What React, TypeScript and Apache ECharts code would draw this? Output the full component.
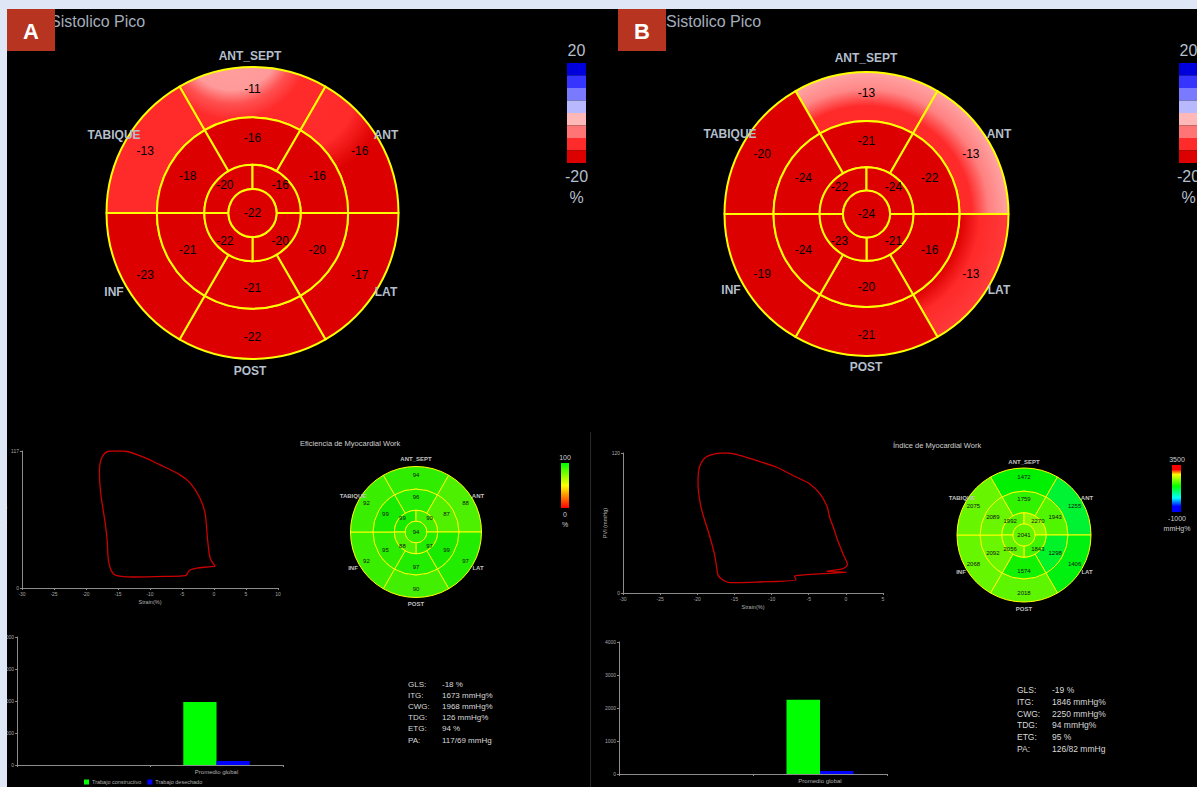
import React, { useEffect, useRef } from 'react';
import * as echarts from 'echarts';

const FONT = '"Liberation Sans", Arial, sans-serif';

// ---- segment names (6-segment rings clockwise from top, 4-segment ring clockwise from top-left)
const SEG6 = ['ANT_SEPT', 'ANT', 'LAT', 'POST', 'INF', 'TABIQUE'];
const SEG4 = ['APICAL_SEPT_ANT', 'APICAL_ANT_LAT', 'APICAL_LAT_POST', 'APICAL_INF_SEPT'];
const APEX = ['APEX'];

// ---- Panel A: peak systolic strain (%)
const strainA_basal = [-11, -16, -17, -22, -23, -13];
const strainA_mid = [-16, -16, -20, -21, -21, -18];
const strainA_apical = [-20, -16, -20, -22];
const strainA_apex = [-22];

// ---- Panel B: peak systolic strain (%)
const strainB_basal = [-13, -13, -13, -21, -19, -20];
const strainB_mid = [-21, -22, -16, -20, -24, -24];
const strainB_apical = [-22, -24, -21, -23];
const strainB_apex = [-24];

// ---- Panel A: myocardial work efficiency (%)
const weA_basal = [94, 88, 97, 90, 92, 92];
const weA_mid = [96, 87, 99, 97, 95, 99];
const weA_apical = [99, 90, 97, 88];
const weA_apex = [94];

// ---- Panel B: myocardial work index (mmHg%)
const wiB_basal = [1472, 1255, 1406, 2018, 2068, 2075];
const wiB_mid = [1759, 1943, 1298, 1574, 2092, 2089];
const wiB_apical = [1992, 2270, 1843, 2056];
const wiB_apex = [2041];

// ---- pressure-strain loops [strain %, LV pressure mmHg]
const loopA = [
  [0.2, 18.5], [-0.6, 25.6], [-1.0, 41.2], [-1.4, 63.9], [-2.2, 76.7], [-3.7, 89.5], [-5.3, 96.6],
  [-8.4, 105.1], [-11.5, 112.8], [-14.2, 117.0], [-16.2, 117.0], [-17.3, 113.6], [-17.8, 106.5],
  [-17.9, 98.0], [-17.7, 80.9], [-17.0, 55.4], [-16.7, 41.2], [-16.5, 24.1], [-16.0, 14.2],
  [-15.2, 10.5], [-12.6, 9.4], [-7.4, 9.9], [-4.5, 10.5], [-3.8, 15.1], [-2.7, 17.0], [-1.1, 17.9], [0.2, 18.5],
];
const loopB = [
  [-17.0, 120], [-18.8, 116.6], [-19.7, 108], [-19.9, 95.1], [-19.5, 73.7], [-18.3, 48], [-17.7, 33.7],
  [-17.4, 22.3], [-17.2, 15.1], [-16.5, 10.9], [-15.6, 8.9], [-12.1, 9.4], [-6.7, 11.4], [-6.9, 14.3],
  [-6.5, 15.1], [-3.1, 16.6], [0.1, 17.7], [-2.6, 18.6], [-0.5, 20.6], [0.2, 24.3], [-0.4, 33.7],
  [-1.1, 45.1], [-1.7, 56.6], [-2.2, 65.1], [-2.5, 73.7], [-3.5, 85.1], [-4.9, 93.7], [-6.7, 99.4],
  [-9.4, 108], [-12.1, 113.7], [-14.8, 118.9], [-16.1, 120], [-17.0, 120],
];
const loopA_yMax = 117;
const loopB_yMax = 120;

// ---- global work bars
const barCategories = ['', 'Promedio global'];
const constructiveA = [null, 1968];
const wastedA = [null, 126];
const constructiveB = [null, 2250];
const wastedB = [null, 94];

// ---- summary values
const statLabels = ['GLS:', 'ITG:', 'CWG:', 'TDG:', 'ETG:', 'PA:'];
const statsA = ['-18 %', '1673 mmHg%', '1968 mmHg%', '126 mmHg%', '94 %', '117/69 mmHg'];
const statsB = ['-19 %', '1846 mmHg%', '2250 mmHg%', '94 mmHg%', '95 %', '126/82 mmHg'];

// ---- legends
const strainLegendColors = ['#0000dd', '#3535ff', '#7a7aff', '#b8b8ff', '#ffb8b8', '#ff7575', '#ff2a2a', '#dd0000'];
const strainLegendTicks = ['20', '-20', '%'];
const weLegendTicks = ['100', '0', '%'];
const wiLegendTicks = ['3500', '-1000', 'mmHg%'];

// ---------------------------------------------------------------- colour scales
function strainColor(v: number) {
  const idx = Math.min(7, Math.max(0, Math.floor((20 - v) / 5)));
  return strainLegendColors[idx];
}
function lerp(a: number[], b: number[], t: number) {
  return a.map((x, i) => Math.round(x + (b[i] - x) * t));
}
function rampColor(stops: [number, number[]][], f: number) {
  f = Math.max(0, Math.min(1, f));
  for (let i = 0; i < stops.length - 1; i++) {
    const [f0, c0] = stops[i];
    const [f1, c1] = stops[i + 1];
    if (f <= f1) {
      const c = lerp(c0, c1, (f - f0) / (f1 - f0 || 1));
      return `rgb(${c[0]},${c[1]},${c[2]})`;
    }
  }
  const c = stops[stops.length - 1][1];
  return `rgb(${c[0]},${c[1]},${c[2]})`;
}
const WE_STOPS: [number, number[]][] = [[0, [255, 0, 0]], [0.5, [255, 255, 0]], [1, [20, 235, 0]]];
function weColor(v: number) {
  return rampColor(WE_STOPS, v / 100);
}
const WI_STOPS: [number, number[]][] = [
  [0, [0, 0, 255]], [0.1, [0, 0, 255]], [0.3, [0, 255, 255]], [0.55, [0, 240, 0]],
  [0.88, [255, 255, 0]], [0.95, [255, 0, 0]], [1, [255, 0, 0]],
];
const WI_LEGEND_STOPS: [number, number[]][] = [
  [0, [0, 0, 255]], [0.12, [0, 0, 255]], [0.3, [0, 255, 255]], [0.55, [0, 255, 0]],
  [0.8, [255, 255, 0]], [0.9, [255, 0, 0]], [1, [255, 0, 0]],
];
function wiColor(v: number) {
  return rampColor(WI_STOPS, (v + 1000) / 4500);
}

// ---------------------------------------------------------------- builders
function ring(
  id: string, center: number[], r0: number, r1: number, names: string[], values: number[],
  colors: any[], startAngle: number, fontSize: number, borderWidth: number, labelColor: string,
) {
  return {
    type: 'pie', id, center, radius: [r0, r1], startAngle, clockwise: true, silent: true,
    avoidLabelOverlap: false, z: 3,
    label: {
      show: true, position: r0 === 0 ? 'center' : 'inside',
      formatter: (p: any) => String(values[p.dataIndex]),
      color: labelColor, fontSize, fontFamily: FONT,
    },
    labelLine: { show: false },
    labelLayout: { hideOverlap: false },
    emphasis: { disabled: true },
    itemStyle: { borderColor: '#ffff00', borderWidth },
    data: names.map((n, i) => ({ name: n, value: 1, itemStyle: { color: colors[i] } })),
  };
}

function bullseye(
  prefix: string, center: number[], R: number,
  basal: number[], mid: number[], apical: number[], apex: number[],
  colorFn: (v: number) => any, fontSize: number, bw: number, labelColor: string,
  overrides: { basal?: any[] } = {},
) {
  const rA = R * 0.165, rB = R * 0.33, rC = R * 0.655;
  const basalColors = basal.map((v, i) => (overrides.basal && overrides.basal[i]) || colorFn(v));
  return [
    ring(prefix + 'basal', center, rC, R, SEG6, basal, basalColors, 120, fontSize, bw, labelColor),
    ring(prefix + 'mid', center, rB, rC, SEG6, mid, mid.map(colorFn), 120, fontSize, bw, labelColor),
    ring(prefix + 'apical', center, rA, rB, SEG4, apical, apical.map(colorFn), 180, fontSize, bw, labelColor),
    ring(prefix + 'apex', center, 0, rA, APEX, apex, apex.map(colorFn), 90, fontSize, bw, labelColor),
  ];
}

function radial(x: number, y: number, r: number, stops: [number, string][]) {
  return { type: 'radial', x, y, r, global: true, colorStops: stops.map(([offset, color]) => ({ offset, color })) };
}

function text(x: number, y: number, t: string, font: string, fill: string, align = 'center', z = 20) {
  return {
    type: 'text', x, y, z, silent: true,
    style: { text: t, font, fill, textAlign: align, textVerticalAlign: 'middle', verticalAlign: 'middle' },
  };
}

const AXIS_COLOR = '#8c8c8c';
function valueAxis(gridIndex: number, min: number, max: number, interval: number, name: string, extra: any = {}) {
  return {
    gridIndex, type: 'value', min, max, interval, name, nameLocation: 'middle',
    nameTextStyle: { fontSize: 5.5, color: '#b0b0b0', fontFamily: FONT },
    axisLine: { show: true, onZero: false, lineStyle: { color: AXIS_COLOR, width: 1 } },
    axisTick: { show: true, length: 2, lineStyle: { color: AXIS_COLOR } },
    axisLabel: { fontSize: 5, color: '#a8a8a8', margin: 3, fontFamily: FONT, formatter: (v: number) => String(v) },
    splitLine: { show: false },
    ...extra,
  };
}

function buildOption() {
  const A_C = [252.5, 213], A_R = 146;
  const B_C = [866.5, 214], B_R = 142;
  const WA_C = [416, 532], WA_R = 65.5;
  const WB_C = [1024, 535], WB_R = 67;

  const series: any[] = [
    ...bullseye('sa_', A_C, A_R, strainA_basal, strainA_mid, strainA_apical, strainA_apex, strainColor, 12, 2, '#000', {
      basal: [
        radial(232, 40, 100, [[0, '#ffa0a0'], [0.5, '#ff9a9a'], [0.64, '#ff5050'], [0.8, '#ff2a2a'], [1, '#ff2a2a']]),
        radial(300, 95, 120, [[0, '#ff2e2e'], [0.45, '#ff2a2a'], [0.7, '#dd0000'], [1, '#dd0000']]),
      ],
    }),
    ...bullseye('sb_', B_C, B_R, strainB_basal, strainB_mid, strainB_apical, strainB_apex, strainColor, 12, 2, '#000', {
      basal: [
        radial(B_C[0], B_C[1], B_R, [[0, '#ff2a2a'], [0.76, '#ff2a2a'], [0.88, '#ff8888'], [1, '#ffa4a4']]),
        radial(B_C[0], B_C[1], B_R, [[0, '#ff2a2a'], [0.74, '#ff2a2a'], [0.86, '#ff8080'], [1, '#ffa4a4']]),
        radial(B_C[0], B_C[1], B_R, [[0, '#dd0000'], [0.66, '#dd0000'], [0.8, '#ff2a2a'], [1, '#ff3a3a']]),
      ],
    }),
    ...bullseye('wa_', WA_C, WA_R, weA_basal, weA_mid, weA_apical, weA_apex, weColor, 6, 1, '#111'),
    ...bullseye('wb_', WB_C, WB_R, wiB_basal, wiB_mid, wiB_apical, wiB_apex, wiColor, 6, 1, '#111'),
    {
      type: 'line', xAxisIndex: 0, yAxisIndex: 0, data: loopA, showSymbol: false, smooth: 0.3, silent: true,
      lineStyle: { color: '#cc0000', width: 1.3 },
    },
    {
      type: 'line', xAxisIndex: 1, yAxisIndex: 1, data: loopB, showSymbol: false, smooth: 0.3, silent: true,
      lineStyle: { color: '#cc0000', width: 1.3 },
    },
    { type: 'bar', name: 'Trabajo constructivo', xAxisIndex: 2, yAxisIndex: 2, data: constructiveA, barGap: '0%', barCategoryGap: '50%', itemStyle: { color: '#00ff00' }, silent: true },
    { type: 'bar', name: 'Trabajo desechado', xAxisIndex: 2, yAxisIndex: 2, data: wastedA, barGap: '0%', barCategoryGap: '50%', itemStyle: { color: '#0000ff' }, silent: true },
    { type: 'bar', name: 'Trabajo constructivo', xAxisIndex: 3, yAxisIndex: 3, data: constructiveB, barGap: '0%', barCategoryGap: '50%', itemStyle: { color: '#00ff00' }, silent: true },
    { type: 'bar', name: 'Trabajo desechado', xAxisIndex: 3, yAxisIndex: 3, data: wastedB, barGap: '0%', barCategoryGap: '50%', itemStyle: { color: '#0000ff' }, silent: true },
  ];

  const grid = [
    { left: 22, top: 451, width: 256, height: 137 },
    { left: 623, top: 453, width: 260, height: 140 },
    { left: 15, top: 637, width: 268, height: 128 },
    { left: 619, top: 642, width: 268, height: 132 },
  ];

  const catAxis = (gridIndex: number) => ({
    gridIndex, type: 'category', data: barCategories,
    axisLine: { lineStyle: { color: AXIS_COLOR } },
    axisTick: { show: true, length: 2, lineStyle: { color: AXIS_COLOR } },
    axisLabel: { fontSize: 6, color: '#b0b0b0', margin: 4, fontFamily: FONT },
    splitLine: { show: false },
  });

  const xAxis = [
    valueAxis(0, -30, 10, 5, 'Strain(%)', { nameGap: 11 }),
    valueAxis(1, -30, 5, 5, 'Strain(%)', { nameGap: 11 }),
    catAxis(2),
    catAxis(3),
  ];
  const yAxis = [
    valueAxis(0, 0, loopA_yMax, loopA_yMax, 'PVI (mmHg)', { nameGap: 12, nameRotate: 90 }),
    valueAxis(1, 0, loopB_yMax, loopB_yMax, 'PVI (mmHg)', { nameGap: 12, nameRotate: 90 }),
    valueAxis(2, 0, 4000, 1000, ''),
    valueAxis(3, 0, 4000, 1000, ''),
  ];

  const lightGray = '#b4bfcc';
  const segFont = `bold 12px ${FONT}`;
  const smallSegFont = `bold 6px ${FONT}`;
  const textGray = '#cfcfcf';
  const graphic: any[] = [
    { type: 'rect', z: -10, silent: true, shape: { x: 7, y: 9, width: 1190, height: 778 }, style: { fill: '#000' } },
    { type: 'line', z: 1, silent: true, shape: { x1: 590.5, y1: 432, x2: 590.5, y2: 787 }, style: { stroke: '#2a2a2a', lineWidth: 1 } },
    // headers
    text(50, 21, 'Sistolico Pico', `16px ${FONT}`, '#a3aebb', 'left', 10),
    text(666, 21, 'Sistolico Pico', `16px ${FONT}`, '#a3aebb', 'left', 10),
    { type: 'rect', z: 50, silent: true, shape: { x: 7, y: 9, width: 48, height: 42 }, style: { fill: '#b73520' } },
    { type: 'rect', z: 50, silent: true, shape: { x: 618, y: 9, width: 48, height: 42 }, style: { fill: '#b73520' } },
    text(31, 31, 'A', `bold 22px ${FONT}`, '#ffffff', 'center', 51),
    text(642, 31, 'B', `bold 22px ${FONT}`, '#ffffff', 'center', 51),
    // big bullseye segment names
    text(250, 56, 'ANT_SEPT', segFont, lightGray), text(114, 135, 'TABIQUE', segFont, lightGray),
    text(386, 135, 'ANT', segFont, lightGray), text(114, 292, 'INF', segFont, lightGray),
    text(386, 292, 'LAT', segFont, lightGray), text(250, 371, 'POST', segFont, lightGray),
    text(866, 58, 'ANT_SEPT', segFont, lightGray), text(730, 134, 'TABIQUE', segFont, lightGray),
    text(999, 134, 'ANT', segFont, lightGray), text(731, 290, 'INF', segFont, lightGray),
    text(999, 290, 'LAT', segFont, lightGray), text(866, 367, 'POST', segFont, lightGray),
    // small bullseye names
    text(416, 459, 'ANT_SEPT', smallSegFont, '#c0c0c0'), text(353, 496, 'TABIQUE', smallSegFont, '#c0c0c0'),
    text(478, 496, 'ANT', smallSegFont, '#c0c0c0'), text(353, 568, 'INF', smallSegFont, '#c0c0c0'),
    text(478, 568, 'LAT', smallSegFont, '#c0c0c0'), text(416, 604, 'POST', smallSegFont, '#c0c0c0'),
    text(1024, 462, 'ANT_SEPT', smallSegFont, '#c0c0c0'), text(962, 498, 'TABIQUE', smallSegFont, '#c0c0c0'),
    text(1087, 498, 'ANT', smallSegFont, '#c0c0c0'), text(961, 572, 'INF', smallSegFont, '#c0c0c0'),
    text(1087, 572, 'LAT', smallSegFont, '#c0c0c0'), text(1024, 609, 'POST', smallSegFont, '#c0c0c0'),
    // small titles
    text(300, 443, 'Eficiencia de Myocardial Work', `7.5px ${FONT}`, textGray, 'left'),
    text(893, 445, 'Índice de Myocardial Work', `7.5px ${FONT}`, textGray, 'left'),
  ];

  // strain legends
  [567, 1179].forEach((lx) => {
    strainLegendColors.forEach((c, i) => {
      graphic.push({ type: 'rect', z: 5, silent: true, shape: { x: lx, y: 63 + i * 12.5, width: 19, height: 12.5 }, style: { fill: c } });
    });
    graphic.push(text(lx + 9.5, 50, strainLegendTicks[0], `16px ${FONT}`, lightGray));
    graphic.push(text(lx + 9.5, 176, strainLegendTicks[1], `16px ${FONT}`, lightGray));
    graphic.push(text(lx + 9.5, 197, strainLegendTicks[2], `16px ${FONT}`, lightGray));
  });
  // work efficiency legend
  graphic.push({
    type: 'rect', z: 5, silent: true, shape: { x: 561, y: 463, width: 8, height: 45 },
    style: { fill: { type: 'linear', x: 0, y: 0, x2: 0, y2: 1, colorStops: [{ offset: 0, color: '#00ff00' }, { offset: 0.5, color: '#ffff00' }, { offset: 1, color: '#ff0000' }] } },
  });
  graphic.push(text(565, 457, weLegendTicks[0], `7px ${FONT}`, textGray));
  graphic.push(text(565, 514, weLegendTicks[1], `7px ${FONT}`, textGray));
  graphic.push(text(565, 524, weLegendTicks[2], `7px ${FONT}`, textGray));
  // work index legend
  graphic.push({
    type: 'rect', z: 5, silent: true, shape: { x: 1172, y: 465, width: 9, height: 47 },
    style: {
      fill: {
        type: 'linear', x: 0, y: 0, x2: 0, y2: 1,
        colorStops: WI_LEGEND_STOPS.slice().reverse().map(([f, c]) => ({ offset: 1 - f, color: `rgb(${c[0]},${c[1]},${c[2]})` })),
      },
    },
  });
  graphic.push(text(1177, 459, wiLegendTicks[0], `7px ${FONT}`, textGray));
  graphic.push(text(1177, 518, wiLegendTicks[1], `7px ${FONT}`, textGray));
  graphic.push(text(1177, 528, wiLegendTicks[2], `7px ${FONT}`, textGray));

  // stats
  statLabels.forEach((l, i) => {
    const yA = 684 + i * 11.2;
    graphic.push(text(408, yA, l, `8px ${FONT}`, '#d8d8d8', 'left'));
    graphic.push(text(442, yA, statsA[i], `8px ${FONT}`, '#d8d8d8', 'left'));
    const yB = 690 + i * 11.8;
    graphic.push(text(1017, yB, l, `8.5px ${FONT}`, '#d8d8d8', 'left'));
    graphic.push(text(1052, yB, statsB[i], `8.5px ${FONT}`, '#d8d8d8', 'left'));
  });

  // page border strips (drawn on top so clipped labels look cut)
  graphic.push({ type: 'rect', z: 100, silent: true, shape: { x: 0, y: 0, width: 7, height: 787 }, style: { fill: '#dfe7f6' } });
  graphic.push({ type: 'rect', z: 100, silent: true, shape: { x: 0, y: 0, width: 1197, height: 9 }, style: { fill: '#dfe7f6' } });

  return {
    animation: false,
    backgroundColor: '#dfe7f6',
    textStyle: { fontFamily: FONT },
    grid,
    xAxis,
    yAxis,
    legend: {
      data: ['Trabajo constructivo', 'Trabajo desechado'], left: 84, top: 779,
      itemWidth: 5, itemHeight: 5, itemGap: 6, icon: 'rect', selectedMode: false,
      textStyle: { fontSize: 5.5, color: '#b0b0b0', fontFamily: FONT, padding: [0, 0, 0, -2] },
      padding: 0,
    },
    series,
    graphic,
  };
}

export default function App() {
  const ref = useRef<HTMLDivElement>(null);
  useEffect(() => {
    document.body.style.margin = '0';
    const chart = echarts.init(ref.current!, undefined, { renderer: 'svg' });
    chart.setOption(buildOption() as any);
    return () => chart.dispose();
  }, []);
  return <div ref={ref} style={{ width: 1197, height: 787, position: 'absolute', left: 0, top: 0 }} />;
}
